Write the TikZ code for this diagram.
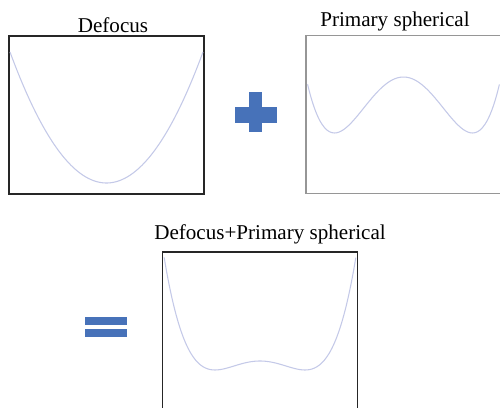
\documentclass[tikz,border=0pt]{standalone}
\usepackage{fontspec}
\setmainfont{Liberation Serif}
\usetikzlibrary{positioning}
\definecolor{signblue}{RGB}{71,114,185}
\definecolor{curvelav}{RGB}{196,201,232}
\definecolor{framegrey}{RGB}{150,150,150}

\begin{document}
\begin{tikzpicture}[
    x=0.02cm, y=-0.02cm,
    plotbox/.style={rectangle, draw=black!85, line width=0.75pt, fill=white,
        minimum width=3.9cm, minimum height=3.16cm, inner sep=0pt},
    title/.style={font=\fontsize{12}{14}\selectfont, anchor=base, inner sep=0pt},
    wave/.style={curvelav, line width=0.6pt, smooth, samples=80},
    sign/.style={fill=signblue, draw=none}
]
    \useasboundingbox (0,0) rectangle (500,408);
    \clip (0,0) rectangle (500,408);

    \node[plotbox] (defocus) at (106.5,115) {};
    \node[plotbox, draw=framegrey] (spherical) at (403.5,114.5) {};
    \node[plotbox] (combined) at (260,331) {};

    \node[title] (deflbl) at (113,33) {Defocus};
    \node[title] (sphlbl) at (395,27) {Primary spherical};
    \node[title] (comblbl) at (270,240) {Defocus+Primary spherical};

    % wavefront curves
    \draw[wave, domain=-1:1] plot ({106.5+96.5*\x}, {183-131*\x*\x});
    \draw[wave, domain=-1.39:1.39] plot ({403.5+69*\x}, {133-56*(\x*\x-1)*(\x*\x-1)});
    \draw[wave, domain=-2.13:2.13] plot ({260+45*\x}, {370-9*(\x*\x-1)*(\x*\x-1)});

    % plus and equal signs
    \node[sign, minimum width=0.84cm, minimum height=0.32cm, inner sep=0pt] (plush) at (256,115) {};
    \node[sign, minimum width=0.26cm, minimum height=0.8cm, inner sep=0pt] (plusv) at (255.5,112) {};
    \node[sign, minimum width=0.84cm, minimum height=0.16cm, inner sep=0pt] (eqtop) at (106,321) {};
    \node[sign, minimum width=0.84cm, minimum height=0.16cm, inner sep=0pt, below=0.06cm of eqtop] (eqbot) {};
\end{tikzpicture}
\end{document}
